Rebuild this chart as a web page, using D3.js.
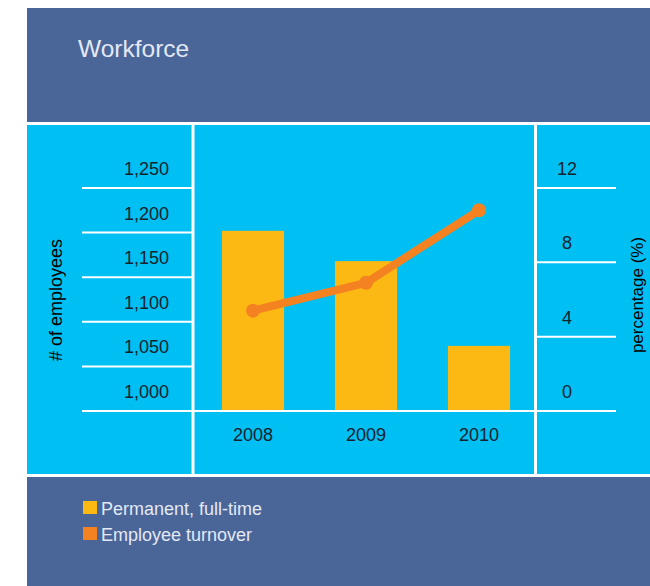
<!DOCTYPE html>
<html>
<head>
<meta charset="utf-8">
<script src="https://cdn.jsdelivr.net/npm/d3@7"></script>
<style>
  html, body { margin: 0; padding: 0; background: #ffffff; }
  svg { display: block; font-family: "Liberation Sans", Arial, Helvetica, sans-serif; }
</style>
</head>
<body>
<svg id="chart" width="650" height="586"></svg>
<script>
// Workforce data
const years = ["2008", "2009", "2010"];
const employees = [1202, 1168, 1073];      // permanent, full-time headcount
const turnover = [5.4, 6.9, 10.8];         // employee turnover, %
const employeeTicks = [1000, 1050, 1100, 1150, 1200, 1250];
const percentTicks = [0, 4, 8, 12];
const legendItems = ["Permanent, full-time", "Employee turnover"];

const colors = {
  panel: "#4a6699",
  plot: "#00bff3",
  bar: "#fdb913",
  line: "#f58220",
  grid: "#ffffff",
  tick: "#16222e",
  light: "#e3e8f4"
};

const svg = d3.select("#chart");

// Background panels
svg.append("rect").attr("x", 27).attr("y", 8).attr("width", 623).attr("height", 578)
  .attr("fill", colors.panel);
svg.append("rect").attr("x", 27).attr("y", 122).attr("width", 623).attr("height", 355)
  .attr("fill", colors.plot);

// Panel separators
const sep = svg.append("g").attr("stroke", colors.grid).attr("stroke-width", 3);
sep.append("line").attr("x1", 27).attr("x2", 650).attr("y1", 123.5).attr("y2", 123.5);
sep.append("line").attr("x1", 27).attr("x2", 650).attr("y1", 475.5).attr("y2", 475.5);
sep.append("line").attr("x1", 193).attr("x2", 193).attr("y1", 123).attr("y2", 476);
sep.append("line").attr("x1", 535.5).attr("x2", 535.5).attr("y1", 123).attr("y2", 476);

// Title
svg.append("text").attr("x", 78).attr("y", 57)
  .attr("fill", colors.light).attr("font-size", 24.5).attr("font-weight", 300)
  .text("Workforce");

// Scales
const x = d3.scaleBand().domain(years).range([196.5, 535.5])
  .paddingInner(0.45).paddingOuter(0.225);
const yLeft = d3.scaleLinear().domain([1000, 1250]).range([411, 188]);
const yRight = d3.scaleLinear().domain([0, 12]).range([411, 188]);

// Left gridlines and labels
const leftAxis = svg.append("g");
leftAxis.selectAll("line").data(employeeTicks).join("line")
  .attr("x1", 82).attr("x2", d => d === 1000 ? 616 : 193)
  .attr("y1", d => yLeft(d)).attr("y2", d => yLeft(d))
  .attr("stroke", colors.grid).attr("stroke-width", 2);
leftAxis.selectAll("text").data(employeeTicks).join("text")
  .attr("x", 169).attr("y", d => yLeft(d) - 13)
  .attr("text-anchor", "end").attr("font-size", 18).attr("fill", colors.tick)
  .text(d => d3.format(",")(d));

// Right gridlines and labels
const rightAxis = svg.append("g");
rightAxis.selectAll("line").data(percentTicks.filter(d => d > 0)).join("line")
  .attr("x1", 535).attr("x2", 616)
  .attr("y1", d => yRight(d)).attr("y2", d => yRight(d))
  .attr("stroke", colors.grid).attr("stroke-width", 2);
rightAxis.selectAll("text").data(percentTicks).join("text")
  .attr("x", 567).attr("y", d => yRight(d) - 13)
  .attr("text-anchor", "middle").attr("font-size", 18).attr("fill", colors.tick)
  .text(d => d);

// Axis titles
svg.append("text").attr("transform", "translate(62,300) rotate(-90)")
  .attr("text-anchor", "middle").attr("font-size", 18).attr("fill", "#000")
  .text("# of employees");
svg.append("text").attr("transform", "translate(643,295) rotate(-90)")
  .attr("text-anchor", "middle").attr("font-size", 17).attr("fill", "#000")
  .text("percentage (%)");

// Bars
svg.append("g").selectAll("rect").data(years).join("rect")
  .attr("x", d => x(d)).attr("width", x.bandwidth())
  .attr("y", (d, i) => yLeft(employees[i]))
  .attr("height", (d, i) => yLeft(1000) - 1 - yLeft(employees[i]))
  .attr("fill", colors.bar);

// Year labels
svg.append("g").selectAll("text").data(years).join("text")
  .attr("x", d => x(d) + x.bandwidth() / 2).attr("y", 441)
  .attr("text-anchor", "middle").attr("font-size", 18).attr("fill", colors.tick)
  .text(d => d);

// Turnover line
const pts = years.map((d, i) => [x(d) + x.bandwidth() / 2, yRight(turnover[i])]);
svg.append("path").datum(pts)
  .attr("d", d3.line())
  .attr("fill", "none").attr("stroke", colors.line).attr("stroke-width", 8)
  .attr("stroke-linejoin", "round");
svg.append("g").selectAll("circle").data(pts).join("circle")
  .attr("cx", d => d[0]).attr("cy", d => d[1]).attr("r", 7)
  .attr("fill", colors.line);

// Legend
const legend = svg.append("g");
const legendColors = [colors.bar, colors.line];
legendItems.forEach((label, i) => {
  const y0 = 501 + i * 26;
  legend.append("rect").attr("x", 83).attr("y", y0).attr("width", 14).attr("height", 13)
    .attr("fill", legendColors[i]);
  legend.append("text").attr("x", 101).attr("y", y0 + 14)
    .attr("font-size", 18).attr("fill", colors.light)
    .text(label);
});
</script>
</body>
</html>
